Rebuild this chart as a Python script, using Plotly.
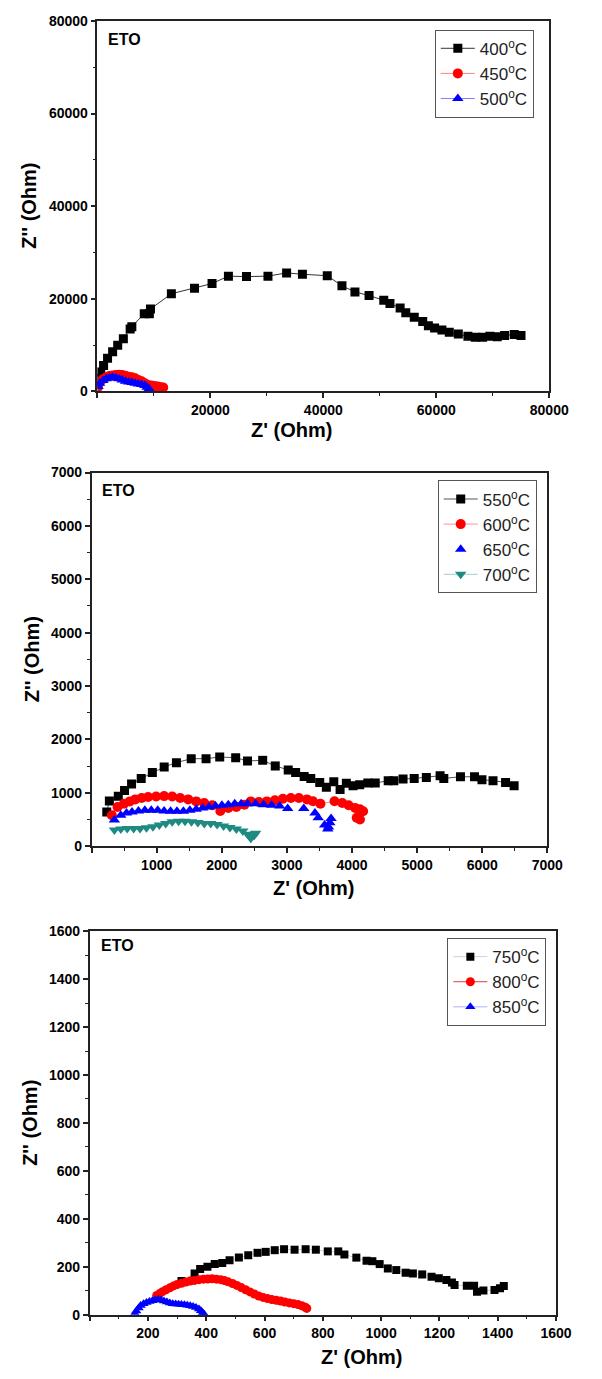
import plotly.graph_objects as go

W, H = 602, 1379
FONT = "Liberation Sans, Arial, sans-serif"

# ---------------- Panel 1 data ----------------
x_400 = [200, 600, 1100, 1800, 2700, 3600, 4600, 5800, 6100, 8300, 9200, 9400, 13100, 17200, 20300,
         23200, 26400, 30200, 33500, 36300, 40700, 43300, 45600, 48100, 50700, 51800, 53600, 54600,
         56100, 57600, 58600, 59700, 61000, 62300, 63900, 65600, 66900, 68200, 69500, 70800, 72100,
         73800, 75000]
y_400 = [2800, 4200, 5600, 7200, 8600, 10000, 11400, 13500, 14000, 16800, 16800, 17800, 21100, 22300,
         23300, 24900, 24800, 24900, 25600, 25300, 25000, 22800, 21500, 20700, 19700, 19000, 18000,
         17000, 16000, 15100, 14200, 13700, 13300, 12800, 12400, 11900, 11700, 11700, 11900, 11800,
         12100, 12300, 12100]
x_450 = [100, 400, 971, 1543, 2114, 2686, 3257, 3829, 4400, 4971, 5543, 6114, 6686, 7257, 7829, 8400,
         8971, 9543, 10114, 10686, 11257, 11657]
y_450 = [900, 1920, 2630, 3060, 3340, 3480, 3560, 3630, 3560, 3410, 3200, 3060, 2840, 2490, 2200, 1780,
         1420, 1280, 1210, 1070, 920, 850]
x_500 = [114, 400, 971, 1543, 2114, 2686, 3257, 3829, 4400, 4971, 5543, 6114, 6686, 7257, 7829, 8400,
         8800, 9143]
y_500 = [1070, 1780, 2350, 2770, 2990, 3060, 2920, 2770, 2490, 2200, 2060, 1920, 1780, 1640, 1490, 1280,
         920, 570]

# ---------------- Panel 2 data ----------------
x_550 = [233, 273, 410, 506, 614, 762, 933, 1115, 1303, 1530, 1758, 1968, 2213, 2395, 2628, 2821, 3020,
         3134, 3265, 3367, 3504, 3606, 3720, 3817, 3913, 4016, 4118, 4243, 4357, 4556, 4642, 4784, 4955,
         5142, 5353, 5410, 5666, 5882, 5996, 6166, 6359, 6490]
y_550 = [641, 844, 937, 1041, 1165, 1269, 1380, 1485, 1565, 1639, 1639, 1670, 1657, 1596, 1608, 1503,
         1429, 1380, 1306, 1269, 1195, 1103, 1208, 1060, 1177, 1134, 1152, 1183, 1183, 1226, 1226, 1257,
         1269, 1288, 1319, 1269, 1300, 1300, 1245, 1226, 1195, 1134]
x_600 = [311, 399, 498, 587, 670, 769, 868, 991, 1114, 1238, 1361, 1484, 1607, 1730, 1853, 1977, 2100,
         2223, 2347, 2445, 2569, 2692, 2815, 2938, 3061, 3184, 3308, 3400, 3515, 3731, 3850, 3948, 4048,
         4122, 4171, 4072, 4122]
y_600 = [580, 735, 796, 839, 876, 901, 920, 932, 938, 932, 901, 876, 839, 809, 765, 660, 716, 735, 778,
         839, 827, 839, 858, 889, 901, 901, 876, 840, 795, 840, 809, 765, 716, 691, 654, 531, 500]
x_650 = [350, 449, 537, 621, 720, 818, 917, 1016, 1114, 1213, 1311, 1410, 1509, 1607, 1706, 1804, 1903,
         2002, 2100, 2199, 2297, 2396, 2519, 2642, 2766, 2889, 3012, 3259, 3431, 3481, 3579, 3628, 3678,
         3660, 3640]
y_650 = [488, 580, 623, 642, 661, 673, 673, 673, 661, 654, 654, 654, 673, 691, 716, 735, 753, 765, 778,
         796, 796, 796, 796, 778, 765, 753, 704, 704, 623, 531, 395, 321, 519, 440, 360]
x_700 = [350, 449, 547, 646, 744, 843, 942, 1040, 1139, 1238, 1336, 1435, 1534, 1632, 1731, 1830, 1928,
         2027, 2125, 2224, 2323, 2396, 2445, 2495, 2519]
y_700 = [302, 321, 333, 333, 333, 346, 364, 395, 426, 457, 469, 469, 457, 444, 426, 426, 407, 377, 352,
         321, 284, 222, 148, 198, 240]

# ---------------- Panel 3 data ----------------
x_750 = [315, 360, 379, 404, 429, 455, 480, 512, 544, 576, 604, 635, 667, 703, 741, 776, 817, 853, 874,
         915, 950, 970, 995, 1023, 1052, 1084, 1109, 1141, 1173, 1198, 1224, 1243, 1252, 1294, 1319, 1329,
         1351, 1389, 1408, 1421]
y_750 = [140, 172, 190, 200, 211, 216, 227, 238, 248, 258, 262, 269, 273, 271, 273, 271, 264, 264, 251,
         238, 225, 223, 211, 193, 186, 175, 172, 168, 158, 152, 145, 134, 124, 121, 121, 96, 101, 103, 110,
         120]
x_800 = [230, 240, 250, 262, 275, 288, 300, 315, 330, 345, 360, 375, 390, 405, 420, 435, 450, 462, 475,
         490, 505, 520, 535, 550, 565, 580, 595, 610, 625, 640, 655, 670, 685, 700, 715, 728, 740, 745]
y_800 = [80, 88, 96, 104, 112, 120, 126, 131, 136, 140, 143, 146, 148, 149, 150, 148, 146, 142, 137, 130,
         122, 113, 104, 95, 86, 78, 72, 67, 63, 60, 57, 53, 49, 46, 42, 37, 31, 26]
x_850 = [155, 160, 168, 175, 185, 195, 205, 215, 225, 235, 245, 255, 265, 275, 285, 295, 305, 315, 325,
         335, 345, 355, 365, 375, 382, 388, 392]
y_850 = [5, 15, 28, 38, 46, 51, 55, 58, 61, 63, 61, 57, 53, 49, 46, 44, 43, 42, 41, 39, 37, 34, 30, 24,
         16, 8, 3]

# tick labels
p1_ticks = [0, 20000, 40000, 60000, 80000]
p2_ticks = [0, 1000, 2000, 3000, 4000, 5000, 6000, 7000]
p3_ticks = [0, 200, 400, 600, 800, 1000, 1200, 1400, 1600]

# pixel boxes of the three plot areas (left, right, top, bottom)
boxes = [(99, 568, 13, 388), (93, 566, 470, 848), (91, 575, 934, 1322)]


def px_x(v):
    return v / W


def px_y(v):
    return 1 - v / H


fig = go.Figure()


def add(x, y, name, ax, symbol, color, lcolor, size, legend, lw=1):
    fig.add_trace(go.Scatter(
        x=x, y=y, name=name, mode="lines+markers",
        xaxis="x" + ax, yaxis="y" + ax, legend=legend,
        marker=dict(symbol=symbol, color=color, size=size, line=dict(width=0)),
        line=dict(color=lcolor, width=lw),
    ))


deg = "<sup>o</sup>C"
add(x_400, y_400, "400" + deg, "", "square", "black", "#333333", 9, "legend")
add(x_450, y_450, "450" + deg, "", "circle", "#ff0000", "#ff8080", 10, "legend")
add(x_500, y_500, "500" + deg, "", "triangle-up", "#0000ff", "#8080ff", 10, "legend")

add(x_550, y_550, "550" + deg, "2", "square", "black", "#555555", 9, "legend2")
add(x_600, y_600, "600" + deg, "2", "circle", "#ff0000", "#ff9090", 10, "legend2")
add(x_650, y_650, "650" + deg, "2", "triangle-up", "#0000ff", "rgba(0,0,255,0)", 10, "legend2")
add(x_700, y_700, "700" + deg, "2", "triangle-down", "#1f8a82", "#9fd0cc", 10, "legend2")

add(x_750, y_750, "750" + deg, "3", "square", "black", "#d0d0d0", 8, "legend3")
add(x_800, y_800, "800" + deg, "3", "circle", "#ff0000", "#d04040", 9, "legend3")
add(x_850, y_850, "850" + deg, "3", "triangle-up", "#0000ff", "#b0b0ff", 9, "legend3")

tickfont = dict(family=FONT, size=14, color="black", weight="bold")


def axis_pair(i, ticks, minor_dt):
    l, r, t, b = boxes[i]
    suffix = "" if i == 0 else str(i + 1)
    common = dict(
        showline=True, linecolor="#222222", linewidth=1.5, mirror=True,
        showgrid=False, zeroline=False, ticks="outside", ticklen=5, tickwidth=1.5,
        tickcolor="#222222", tickfont=tickfont, range=[ticks[0], ticks[-1]],
        tickmode="array", tickvals=ticks,
        minor=dict(ticks="outside", ticklen=3, tickwidth=1.2, tickcolor="#222222",
                   tickmode="linear", tick0=0, dtick=minor_dt, showgrid=False),
    )
    xa = dict(common, domain=[px_x(l), px_x(r)], anchor="y" + suffix,
              ticktext=[" "] + [str(v) for v in ticks[1:]])
    ya = dict(common, domain=[px_y(b), px_y(t)], anchor="x" + suffix,
              ticktext=[str(v) for v in ticks])
    return suffix, xa, ya


layout = {}
for i, (ticks, mdt) in enumerate([(p1_ticks, 10000), (p2_ticks, 500), (p3_ticks, 100)]):
    s, xa, ya = axis_pair(i, ticks, mdt)
    layout["xaxis" + s] = xa
    layout["yaxis" + s] = ya

legend_common = dict(
    bgcolor="white", bordercolor="#555555", borderwidth=1,
    font=dict(family=FONT, size=17, color="#222222"),
    xanchor="right", yanchor="top", itemwidth=34, tracegroupgap=0,
    itemsizing="trace",
)
layout["legend"] = dict(legend_common, x=px_x(552), y=px_y(22))
layout["legend2"] = dict(legend_common, x=px_x(555), y=px_y(478))
layout["legend3"] = dict(legend_common, x=px_x(565), y=px_y(941))

annotations = []
title_font = dict(family=FONT, size=20, color="black", weight="bold")
eto_font = dict(family=FONT, size=16, color="black", weight="bold")
x_title_pos = [(300, 427), (323, 890), (373, 1365)]
y_title_pos = [(28, 200), (31, 659), (29, 1128)]
eto_pos = [(108, 32), (102, 488), (101, 949)]
for i in range(3):
    xt, yt = x_title_pos[i]
    annotations.append(dict(text="Z' (Ohm)", x=px_x(xt), y=px_y(yt), xref="paper", yref="paper",
                            showarrow=False, font=title_font, xanchor="center", yanchor="middle"))
    xt, yt = y_title_pos[i]
    annotations.append(dict(text="Z'' (Ohm)", x=px_x(xt), y=px_y(yt), xref="paper", yref="paper",
                            showarrow=False, font=title_font, textangle=-90,
                            xanchor="center", yanchor="middle"))
    xt, yt = eto_pos[i]
    annotations.append(dict(text="ETO", x=px_x(xt), y=px_y(yt), xref="paper", yref="paper",
                            showarrow=False, font=eto_font, xanchor="left", yanchor="middle"))

fig.update_layout(
    width=W, height=H, margin=dict(l=0, r=0, t=0, b=0),
    paper_bgcolor="white", plot_bgcolor="white",
    showlegend=True, annotations=annotations, **layout,
)

fig.write_html("out.html")
